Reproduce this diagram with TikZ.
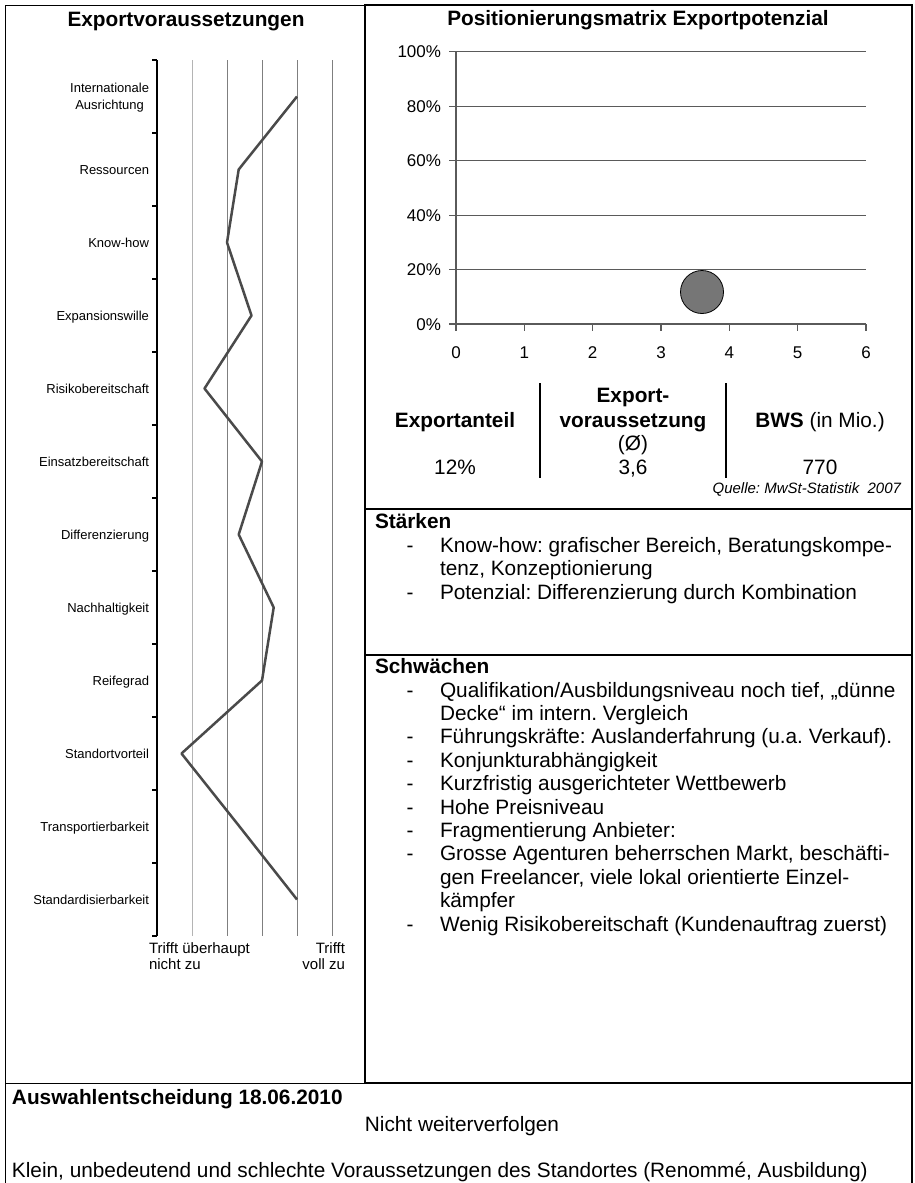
\documentclass[tikz,border=0pt]{standalone}
\usepackage{fontspec}
\setmainfont{Liberation Sans}
\frenchspacing
\definecolor{dataline}{HTML}{4A4A4A}
\definecolor{gridmid}{HTML}{7F7F7F}
\definecolor{gridlight}{HTML}{B4B4B4}
\definecolor{chartline}{HTML}{5A5A5A}
\definecolor{bubblefill}{HTML}{767676}
\begin{document}
\frenchspacing
\begin{tikzpicture}[x=1pt,y=-1pt,
  every node/.style={inner sep=0pt, outer sep=0pt},
  body/.style={font=\fontsize{20.8}{24}\selectfont},
  bodyb/.style={font=\fontsize{20.8}{24}\selectfont\bfseries},
  head/.style={font=\fontsize{20.8}{24}\selectfont\bfseries},
  cat/.style={font=\fontsize{13}{17}\selectfont, anchor=base east},
  axlab/.style={font=\fontsize{17}{20}\selectfont},
  small/.style={font=\fontsize{15}{16}\selectfont},
  thinframe/.style={line width=1pt, black},
  thickframe/.style={line width=2pt, black},
  lgrid/.style={line width=1pt, gridlight},
  mgrid/.style={line width=1pt, gridmid},
  cline/.style={line width=1.2pt, chartline},
  dline/.style={line width=2.5pt, dataline, line join=round},
  sep/.style={line width=2pt, black}
]
\useasboundingbox (0,0) rectangle (915,1183);

% ---------- frames ----------
\draw[thinframe] (5,1183) -- (5,5) -- (365,5);
\draw[thinframe] (5,1083) -- (365,1083);
\draw[thickframe] (365,5) rectangle (912,1083);
\draw[thickframe] (912,1083) -- (912,1183);
\draw[thickframe] (365,509) -- (912,509);
\draw[thickframe] (365,655) -- (912,655);

% ---------- left chart ----------
\node[head, anchor=base] (ltitle) at (186,26) {Exportvoraussetzungen};
\draw[lgrid] (192,60) -- (192,936);
\foreach \gx in {227,262,297,332} \draw[mgrid] (\gx,60) -- (\gx,936);
\draw[line width=1.6pt, black] (157,60) -- (157,936);
\foreach \i in {0,...,12} \draw[line width=1.2pt, black] (152,60+73*\i) -- (157,60+73*\i);

\coordinate (p1) at (297,96.5);
\coordinate (p2) at (238.7,169.5);
\coordinate (p3) at (227,242.5);
\coordinate (p4) at (251.5,315.5);
\coordinate (p5) at (204.5,388.5);
\coordinate (p6) at (262,461.5);
\coordinate (p7) at (238.7,534.5);
\coordinate (p8) at (273.7,607.5);
\coordinate (p9) at (262,680.5);
\coordinate (p10) at (181.5,753.5);
\coordinate (p11) at (239.5,826.5);
\coordinate (p12) at (297,899.5);
\draw[dline] (p1) -- (p2) -- (p3) -- (p4) -- (p5) -- (p6) -- (p7) -- (p8) -- (p9) -- (p10) -- (p11) -- (p12);

\node[font=\fontsize{13}{17}\selectfont, align=center, anchor=east] (c1) at (149,98) {Internationale\\Ausrichtung};
\node[cat] (c2) at (149,174.2) {Ressourcen};
\node[cat] (c3) at (149,247.2) {Know-how};
\node[cat] (c4) at (149,320.2) {Expansionswille};
\node[cat] (c5) at (149,393.2) {Risikobereitschaft};
\node[cat] (c6) at (149,466.2) {Einsatzbereitschaft};
\node[cat] (c7) at (149,539.2) {Differenzierung};
\node[cat] (c8) at (149,612.2) {Nachhaltigkeit};
\node[cat] (c9) at (149,685.2) {Reifegrad};
\node[cat] (c10) at (149,758.2) {Standortvorteil};
\node[cat] (c11) at (149,831.2) {Transportierbarkeit};
\node[cat] (c12) at (149,904.2) {Standardisierbarkeit};

\node[small, anchor=base west] (lo1) at (149,953) {Trifft überhaupt};
\node[small, anchor=base west] (lo2) at (149,969) {nicht zu};
\node[small, anchor=base east] (hi1) at (345,953) {Trifft};
\node[small, anchor=base east] (hi2) at (345,969) {voll zu};

% ---------- right chart ----------
\node[head, anchor=base] (rtitle) at (638,25.5) {Positionierungsmatrix Exportpotenzial};
\foreach \pc/\gy in {100/51.7,80/106.2,60/160.7,40/215.1,20/269.6} {
  \draw[cline] (456,\gy) -- (866,\gy);
  \draw[cline] (449,\gy) -- (456,\gy);
  \node[axlab, anchor=base east] at (441,\gy+6) {\pc\%};
}
\draw[cline] (449,324) -- (456,324);
\node[axlab, anchor=base east] (y0) at (441,330) {0\%};
\draw[cline] (456,51.7) -- (456,324) -- (866,324);
\foreach \k in {0,...,6} {
  \draw[cline] (456+68.33*\k,324) -- (456+68.33*\k,331);
  \node[axlab, anchor=base] at (456+68.33*\k,358) {\k};
}
\node[circle, draw=black, line width=0.8pt, fill=bubblefill, minimum size=43pt] (bubble) at (702,292) {};

% ---------- key figures ----------
\draw[sep] (540,383) -- (540,478);
\draw[sep] (726,383) -- (726,478);
\node[bodyb, anchor=base] (ea) at (455,427) {Exportanteil};
\node[bodyb, anchor=base] (ev1) at (633,402) {Export-};
\node[bodyb, anchor=base] (ev2) at (633,427) {voraussetzung};
\node[body, anchor=base] (ev3) at (633,450) {(Ø)};
\node[body, anchor=base] (bws) at (820,427) {\textbf{BWS} (in Mio.)};
\node[body, anchor=base] (v1) at (455,474) {12\%};
\node[body, anchor=base] (v2) at (633,474) {3,6};
\node[body, anchor=base] (v3) at (820,474) {770};
\node[font=\fontsize{15}{18}\selectfont\itshape, anchor=base east] (src) at (901,493) {Quelle: MwSt-Statistik\ \ 2007};

% ---------- Stärken ----------
\node[bodyb, anchor=base west] (sth) at (375,528) {Stärken};
\node[body, anchor=base] (sd1) at (410,552) {-};
\node[body, anchor=base west] (st1) at (440,552) {Know-how: grafischer Bereich, Beratungskompe-};
\node[body, anchor=base west] (st2) at (440,575.5) {tenz, Konzeptionierung};
\node[body, anchor=base] (sd2) at (410,599) {-};
\node[body, anchor=base west] (st3) at (440,599) {Potenzial: Differenzierung durch Kombination};

% ---------- Schwächen ----------
\node[bodyb, anchor=base west] (swh) at (375,673) {Schwächen};
\node[body, anchor=base] (wd1) at (410,697) {-};
\node[body, anchor=base west] (w1) at (440,697) {Qualifikation/Ausbildungsniveau noch tief, „dünne};
\node[body, anchor=base west] (w2) at (440,720.4) {Decke“ im intern. Vergleich};
\node[body, anchor=base] (wd2) at (410,743.8) {-};
\node[body, anchor=base west] (w3) at (440,743.8) {Führungskräfte: Auslanderfahrung (u.a. Verkauf).};
\node[body, anchor=base] (wd3) at (410,767.2) {-};
\node[body, anchor=base west] (w4) at (440,767.2) {Konjunkturabhängigkeit};
\node[body, anchor=base] (wd4) at (410,790.6) {-};
\node[body, anchor=base west] (w5) at (440,790.6) {Kurzfristig ausgerichteter Wettbewerb};
\node[body, anchor=base] (wd5) at (410,814) {-};
\node[body, anchor=base west] (w6) at (440,814) {Hohe Preisniveau};
\node[body, anchor=base] (wd6) at (410,837.4) {-};
\node[body, anchor=base west] (w7) at (440,837.4) {Fragmentierung Anbieter:};
\node[body, anchor=base] (wd7) at (410,860.8) {-};
\node[body, anchor=base west] (w8) at (440,860.8) {Grosse Agenturen beherrschen Markt, beschäfti-};
\node[body, anchor=base west] (w9) at (440,884.2) {gen Freelancer, viele lokal orientierte Einzel-};
\node[body, anchor=base west] (w10) at (440,907.6) {kämpfer};
\node[body, anchor=base] (wd8) at (410,931) {-};
\node[body, anchor=base west] (w11) at (440,931) {Wenig Risikobereitschaft (Kundenauftrag zuerst)};

% ---------- decision ----------
\node[head, anchor=base west] (dh) at (12,1104) {Auswahlentscheidung 18.06.2010};
\node[body, anchor=base] (dn) at (462,1131) {Nicht weiterverfolgen};
\node[body, anchor=base west] (dk) at (12,1177) {Klein, unbedeutend und schlechte Voraussetzungen des Standortes (Renommé, Ausbildung)};
\end{tikzpicture}
\end{document}
